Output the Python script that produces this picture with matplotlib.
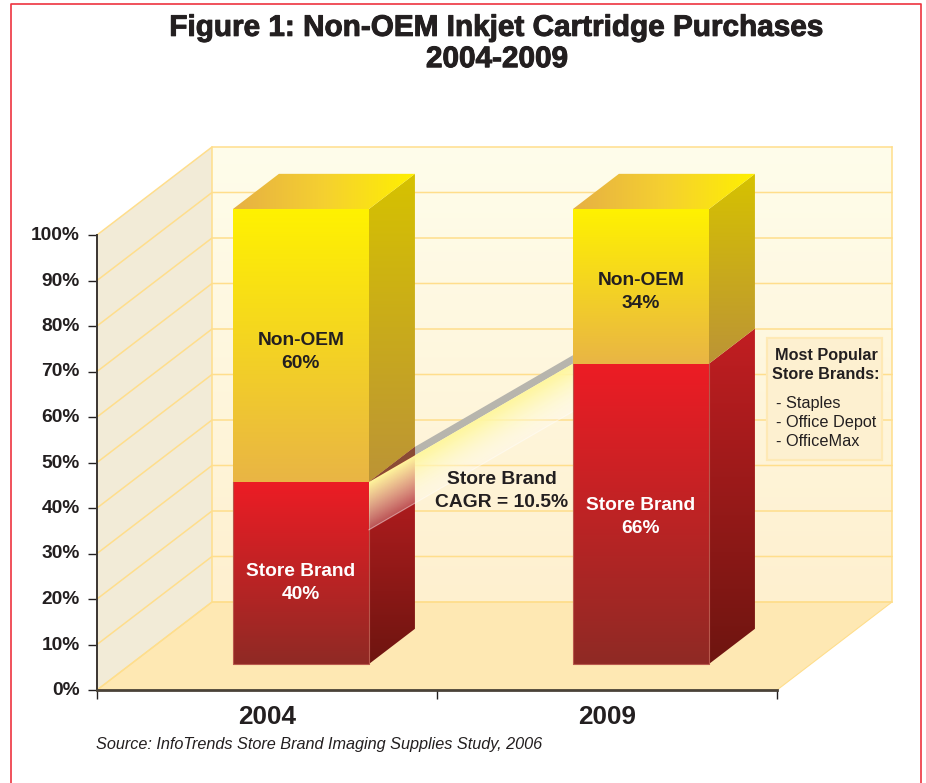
import matplotlib
matplotlib.use("Agg")
import matplotlib.pyplot as plt
import matplotlib.patheffects as pe
import numpy as np
from matplotlib.colors import to_rgb
from matplotlib.patches import Polygon, Rectangle
from matplotlib.transforms import ScaledTranslation

plt.rcParams["font.family"] = ["Liberation Sans", "DejaVu Sans"]

years = ["2004", "2009"]
store_brand = [40, 66]
non_oem = [60, 34]
y_ticks = [0, 10, 20, 30, 40, 50, 60, 70, 80, 90, 100]
popular_brands = ["Staples", "Office Depot", "OfficeMax"]

W, H = 926, 783
INK = "#231F20"
GRID = "#FFDE8C"

# one unit of depth on the axes' own scales (115 px across, 88 px up)
DX = 115 / 680
DV = 88 / 4.55
BAR_X = [0.25, 0.75]
BAR_HALF = 0.10
D0, D1 = 0.295, 0.695
# the labels do not sit exactly mid-segment in the original
STORE_NUDGE = [-2.2, -0.6]
OEM_NUDGE = [-1.4, -1.2]


def proj(x, d, v):
    return x + d * DX, v + d * DV


fig = plt.figure(figsize=(W / 100, H / 100), dpi=100)
ax = fig.add_axes([97 / W, (H - 690) / H, 680 / W, 455 / H])
ax.patch.set_alpha(0)
ax.set_xlim(0, 1)
ax.set_ylim(0, 100)
ax.set_autoscale_on(False)


def ramp(colors, n=256):
    pts = np.linspace(0, 1, len(colors))
    rgb = np.array([to_rgb(c) for c in colors])
    t = np.linspace(0, 1, n)
    return np.stack([np.interp(t, pts, rgb[:, i]) for i in range(3)], axis=-1)


def gradient(verts, colors, z, horizontal=False):
    verts = np.array(verts)
    arr = ramp(colors)
    arr = arr[None, :, :] if horizontal else arr[:, None, :]
    im = ax.imshow(arr, extent=(verts[:, 0].min(), verts[:, 0].max(),
                                verts[:, 1].min(), verts[:, 1].max()),
                   origin="upper", aspect="auto", zorder=z, interpolation="bilinear")
    im.set_clip_box(fig.bbox)
    im.set_clip_path(Polygon(verts, transform=ax.transData))
    return im


def poly(verts, z, **kw):
    ax.add_patch(Polygon(verts, zorder=z, clip_on=False, **kw))


# walls and floor
gradient([proj(0, 1, 0), proj(1, 1, 0), proj(1, 1, 100), proj(0, 1, 100)],
         ["#FFFDEB", "#FEF0CF"], 1)
poly([proj(0, 0, 0), proj(0, 1, 0), proj(0, 1, 100), proj(0, 0, 100)], 1,
     fc="#F2EBD7", ec="none")
poly([proj(0, 0, 0), proj(1, 0, 0), proj(1, 1, 0), proj(0, 1, 0)], 1,
     fc="#FEE8B3", ec=GRID, lw=0.8)
for v in y_ticks:
    pts = np.array([proj(0, 0, v), proj(0, 1, v), proj(1, 1, v)])
    ax.plot(pts[:, 0], pts[:, 1], color=GRID, lw=1.1, zorder=2, clip_on=False)
pts = np.array([proj(0, 1, 0), proj(0, 1, 100)])
ax.plot(pts[:, 0], pts[:, 1], color=GRID, lw=1.1, zorder=2, clip_on=False)
pts = np.array([proj(1, 1, 0), proj(1, 1, 100)])
ax.plot(pts[:, 0], pts[:, 1], color=GRID, lw=1.1, zorder=2, clip_on=False)

# bars; the second one is drawn above the ribbon
for i, (xc, s, n) in enumerate(zip(BAR_X, store_brand, non_oem)):
    z = 3 if i == 0 else 7
    x0, x1 = xc - BAR_HALF, xc + BAR_HALF
    top = s + n
    gradient([proj(x0, D0, 0), proj(x1, D0, 0), proj(x1, D0, s), proj(x0, D0, s)],
             ["#ED1C24", "#8F2A25"], z)
    gradient([proj(x0, D0, s), proj(x1, D0, s), proj(x1, D0, top), proj(x0, D0, top)],
             ["#FFF200", "#E9B545"], z)
    gradient([proj(x1, D0, 0), proj(x1, D1, 0), proj(x1, D1, s), proj(x1, D0, s)],
             ["#C21E22", "#6E1510"], z)
    gradient([proj(x1, D0, s), proj(x1, D1, s), proj(x1, D1, top), proj(x1, D0, top)],
             ["#D6C200", "#BC9436"], z)
    gradient([proj(x0, D0, top), proj(x1, D0, top), proj(x1, D1, top), proj(x0, D1, top)],
             ["#E6B044", "#F5D030", "#FFF000"], z, horizontal=True)
    edge = np.array([proj(x0, D0, s), proj(x0, D0, 0), proj(x1, D0, 0), proj(x1, D0, s)])
    ax.plot(edge[:, 0], edge[:, 1], color="#B8584C", lw=0.8, zorder=z + 0.1, clip_on=False)

# ribbon between the two store brand tops, from bar front edge to bar front edge
xa, va = proj(BAR_X[0] + BAR_HALF, D0, store_brand[0])
xb, vb = proj(BAR_X[1] - BAR_HALF, D0, store_brand[1])
xc_back, v_back = proj(BAR_X[0] + BAR_HALF, D1, store_brand[0])
rib_h = 10.5
edge_at_back = va + (vb - va) * (xc_back - xa) / (xb - xa)
shift = v_back - edge_at_back
poly([(xc_back, edge_at_back), (xc_back, v_back), (xb, vb + shift), (xb, vb)], 4,
     fc="#B7B5AD", ec="none")
poly([(xa, va), (xc_back, v_back), (xc_back, edge_at_back)], 4, fc="#8A4B35", ec="none")

nx, ny = 300, 300
vmin, vmax = va - rib_h, vb
xx, yy = np.meshgrid(np.linspace(xa, xb, nx), np.linspace(vmax, vmin, ny))
edge_v = va + (vb - va) * (xx - xa) / (xb - xa)
frac = np.clip((edge_v - yy) / rib_h, 0, 1)
rgba = np.zeros((ny, nx, 4))
c0, c1 = np.array(to_rgb("#FFF79E")), np.array(to_rgb("#FFFFFF"))
for k in range(3):
    rgba[..., k] = c0[k] + (c1[k] - c0[k]) * frac ** 1.3
rgba[..., 3] = 1 - 0.75 * frac
im = ax.imshow(rgba, extent=(xa, xb, vmin, vmax), origin="upper", aspect="auto",
               zorder=5, interpolation="bilinear")
im.set_clip_box(fig.bbox)
im.set_clip_path(Polygon([(xa, va), (xb, vb), (xb, vb - rib_h), (xa, va - rib_h)],
                         transform=ax.transData))
ax.plot([xa, xb], [va - rib_h, vb - rib_h], color="white", lw=0.8, alpha=0.45, zorder=5)

# bar labels
for i, (xc, s, n) in enumerate(zip(BAR_X, store_brand, non_oem)):
    lx, ly = proj(xc, D0, s / 2 + STORE_NUDGE[i])
    ax.text(lx, ly, f"Store Brand\n{s}%", color="white", ha="center", va="center",
            fontsize=13.8, fontweight="bold", linespacing=1.45, zorder=9)
    lx, ly = proj(xc, D0, s + n / 2 + OEM_NUDGE[i])
    ax.text(lx, ly, f"Non-OEM\n{n}%", color=INK, ha="center", va="center",
            fontsize=13.8, fontweight="bold", linespacing=1.45, zorder=9)

# axes furniture
for side in ("top", "right"):
    ax.spines[side].set_visible(False)
ax.spines["left"].set_color("#3A3530")
ax.spines["left"].set_linewidth(1.4)
ax.spines["bottom"].set_color("#4A4238")
ax.spines["bottom"].set_linewidth(2)
ax.spines["left"].set_zorder(8)
ax.spines["bottom"].set_zorder(8)
ax.set_yticks(y_ticks, [f"{v}%" for v in y_ticks], fontsize=13.8, fontweight="bold", color=INK)
ax.set_xticks([0, 0.5, 1], ["", "", ""])
ax.set_xticks(BAR_X, years, minor=True, fontsize=18.8, fontweight="bold", color=INK)
ax.tick_params(axis="y", length=6.5, width=1, color=INK, pad=6)
ax.tick_params(axis="x", which="major", length=6.5, width=1, color=INK)
ax.tick_params(axis="x", which="minor", length=0, pad=11)
nudge = ScaledTranslation(0, 1.5 / 100, fig.dpi_scale_trans)
for lab in ax.get_yticklabels():
    lab.set_transform(lab.get_transform() + nudge)

# title, source, frame
title = fig.text(497 / W, 1 - 43.5 / H, "Figure 1: Non-OEM Inkjet Cartridge Purchases\n2004-2009",
                 ha="center", va="center", fontsize=21.4, fontweight="bold", color=INK,
                 linespacing=1.15)
title.set_path_effects([pe.withStroke(linewidth=0.7, foreground=INK)])
fig.text(96 / W, 1 - 745 / H, "Source: InfoTrends Store Brand Imaging Supplies Study, 2006",
         ha="left", va="center", fontsize=11.7, style="italic", color=INK)
fig.text(502 / W, 1 - 491 / H, "Store Brand\nCAGR = 10.5%", ha="center", va="center",
         fontsize=13.9, fontweight="bold", color=INK, linespacing=1.45, zorder=9)

# side note
fig.add_artist(Rectangle((767 / W, 1 - 460 / H), 115 / W, 122 / H, transform=fig.transFigure,
                         fc="#FDF0D0", ec="#FEE9B5", lw=1.6, zorder=5))
fig.text(826 / W, 1 - 365 / H, "Most Popular\nStore Brands:", ha="center", va="center",
         fontsize=11.7, fontweight="bold", color=INK, linespacing=1.35, zorder=6)
for k, name in enumerate(popular_brands):
    fig.text(776 / W, 1 - (403 + 19.5 * k) / H, f"- {name}", ha="left", va="center",
             fontsize=11.7, color=INK, zorder=6)

fig.add_artist(plt.Line2D([10.5 / W, 10.5 / W, 920.5 / W, 920.5 / W],
                          [0, 1 - 3.5 / H, 1 - 3.5 / H, 0],
                          transform=fig.transFigure, color="#EE3340", lw=1.2))

fig.savefig("out.png", dpi=100)
